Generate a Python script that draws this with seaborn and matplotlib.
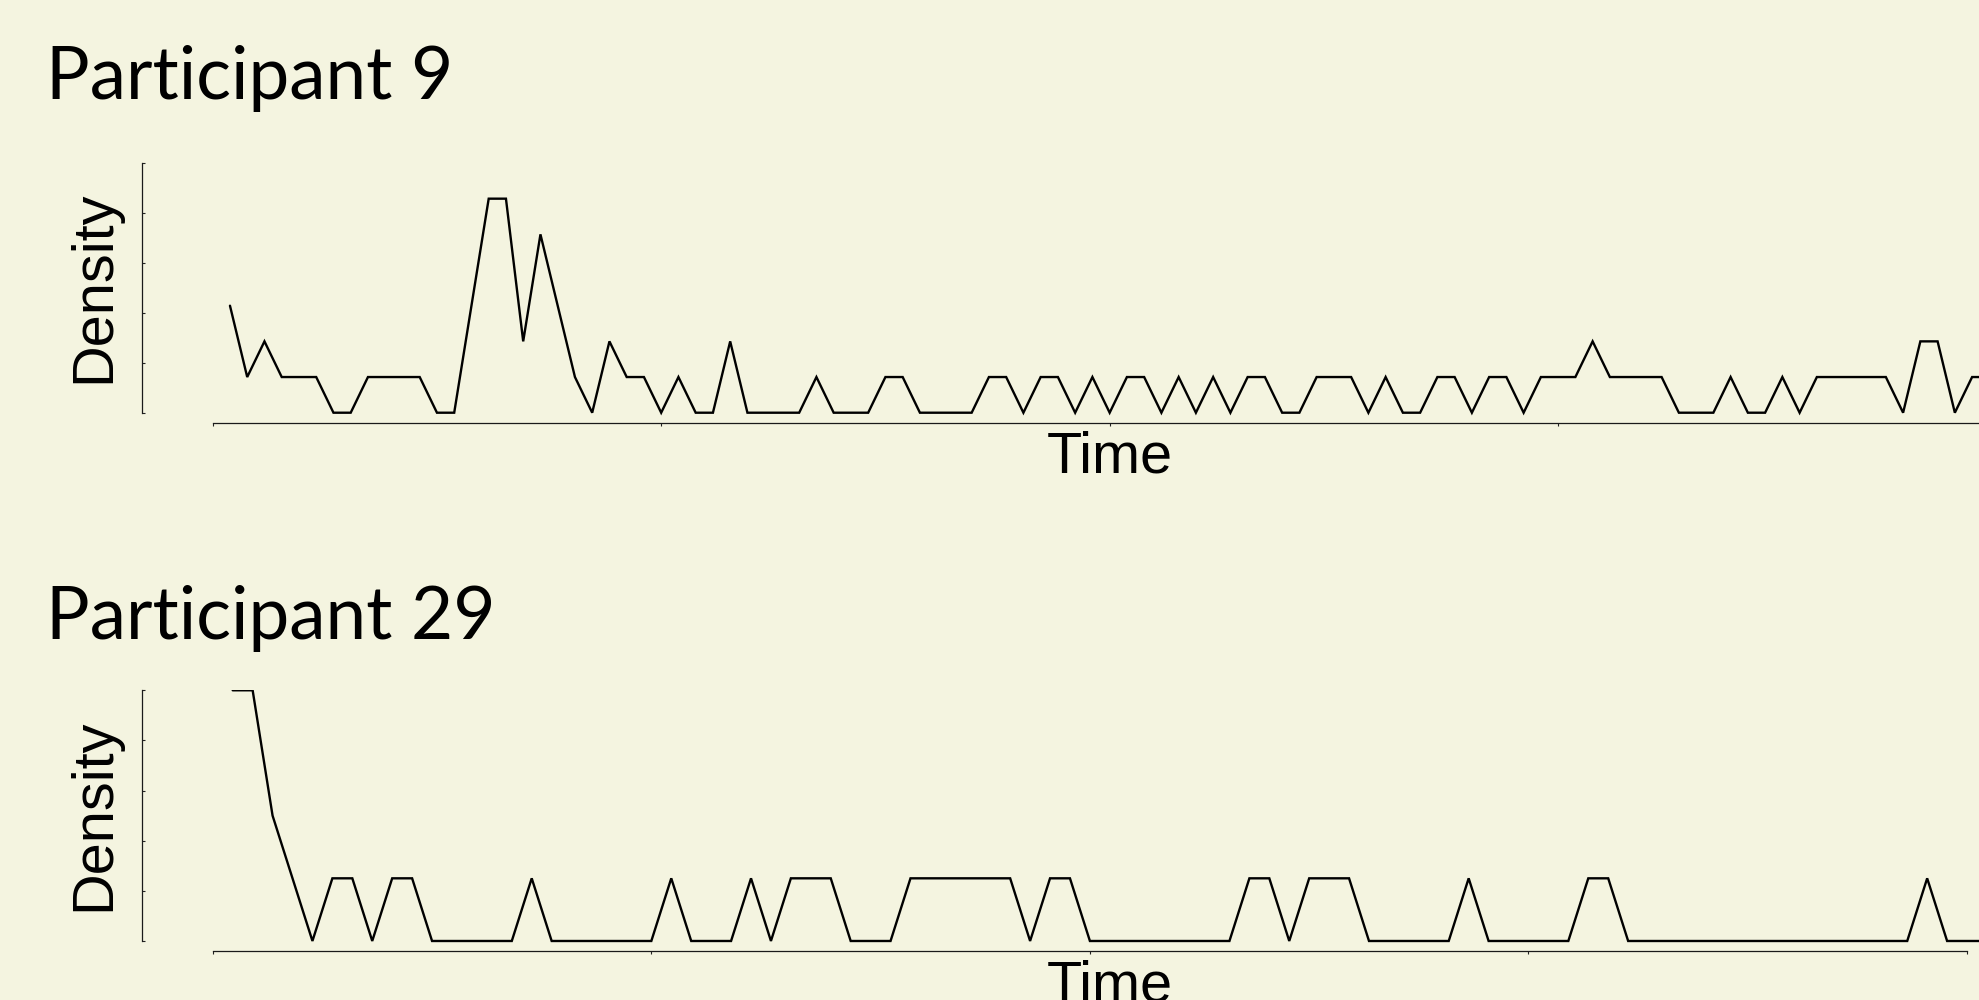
import numpy as np
import pandas as pd
import matplotlib
matplotlib.use("Agg")
import matplotlib.pyplot as plt
import seaborn as sns

# ---------------- data ----------------
titles = ["Participant 9", "Participant 29"]
x_label = "Time"
y_label = "Density"

p9_density = [3, 1, 2, 1, 1, 1, 0, 0, 1, 1,
              1, 1, 0, 0, 3, 6, 6, 2, 5, 3,
              1, 0, 2, 1, 1, 0, 1, 0, 0, 2,
              0, 0, 0, 0, 1, 0, 0, 0, 1, 1,
              0, 0, 0, 0, 1, 1, 0, 1, 1, 0,
              1, 0, 1, 1, 0, 1, 0, 1, 0, 1,
              1, 0, 0, 1, 1, 1, 0, 1, 0, 0,
              1, 1, 0, 1, 1, 0, 1, 1, 1, 2,
              1, 1, 1, 1, 0, 0, 0, 1, 0, 0,
              1, 0, 1, 1, 1, 1, 1, 0, 2, 2,
              0, 1, 1]

p29_density = [4, 4, 2, 1, 0, 1, 1, 0, 1, 1,
               0, 0, 0, 0, 0, 1, 0, 0, 0, 0,
               0, 0, 1, 0, 0, 0, 1, 0, 1, 1,
               1, 0, 0, 0, 1, 1, 1, 1, 1, 1,
               0, 1, 1, 0, 0, 0, 0, 0, 0, 0,
               0, 1, 1, 0, 1, 1, 1, 0, 0, 0,
               0, 0, 1, 0, 0, 0, 0, 0, 1, 1,
               0, 0, 0, 0, 0, 0, 0, 0, 0, 0,
               0, 0, 0, 0, 0, 1, 0, 0, 0]

p9_time = np.arange(1, len(p9_density) + 1)
p29_time = np.arange(1, len(p29_density) + 1)

# ---------------- style ----------------
BG = "#F4F4E0"
sns.set_theme(style="ticks", rc={"figure.facecolor": BG, "axes.facecolor": BG,
                                 "savefig.facecolor": BG})
plt.rcParams["font.family"] = ["Liberation Sans", "DejaVu Sans"]

W, H = 1979, 1000
fig = plt.figure(figsize=(W / 100, H / 100), dpi=100)

panels = [
    dict(df=pd.DataFrame({"Time": p9_time, "Density": p9_density}),
         title=titles[0], ax_bottom=422.7, ax_height=259.7,
         xlim=(-4.10, 102.4), ylim=(-0.28, 7.0),
         yticks=[0, 1.4, 2.8, 4.2, 5.6, 7.0], xticks=[0, 26, 52, 78],
         xspine=(0, 110), title_base=98.5),
    dict(df=pd.DataFrame({"Time": p29_time, "Density": p29_density}),
         title=titles[1], ax_bottom=950.7, ax_height=260.4,
         xlim=(-3.55, 88.6), ylim=(-0.155, 4.0),
         yticks=[0, 0.8, 1.6, 2.4, 3.2, 4.0], xticks=[0, 22, 44, 66, 88],
         xspine=(0, 88), title_base=638.5),
]

left_px = 142
for p in panels:
    ax = fig.add_axes([left_px / W, 1 - p["ax_bottom"] / H,
                       1 - left_px / W, p["ax_height"] / H])
    ax.set_facecolor(BG)
    sns.lineplot(data=p["df"], x="Time", y="Density", ax=ax, color="black",
                 linewidth=1.7, solid_joinstyle="miter", estimator=None)
    ax.set_yticks(p["yticks"])
    ax.set_xticks(p["xticks"])
    ax.set_yticklabels([])
    ax.set_xticklabels([])
    ax.set_xlim(*p["xlim"])
    ax.set_ylim(*p["ylim"])
    ax.tick_params(axis="y", direction="in", length=2, width=0.8, color="#222222")
    ax.tick_params(axis="x", direction="out", length=2, width=0.8, color="#222222")
    for s in ["top", "right"]:
        ax.spines[s].set_visible(False)
    ax.spines["left"].set_bounds(p["yticks"][0], p["yticks"][-1])
    ax.spines["bottom"].set_bounds(*p["xspine"])
    for s in ["left", "bottom"]:
        ax.spines[s].set_linewidth(0.9)
        ax.spines[s].set_color("#1a1a1a")

    ax.set_xlabel(x_label, fontsize=41.5, color="black")
    ax.set_ylabel(y_label, fontsize=41.5, color="black")
    ax.xaxis.set_label_coords((1109.6 - left_px) / (W - left_px),
                              -8.3 / p["ax_height"])
    ax.yaxis.set_label_coords((121.5 - left_px) / (W - left_px), 0.523)

    fig.text(46.5 / W, 1 - p["title_base"] / H, p["title"], fontsize=52.5,
             family=["Lato", "DejaVu Sans"], color="black",
             ha="left", va="baseline")

fig.savefig("out.png", dpi=100, facecolor=BG)
